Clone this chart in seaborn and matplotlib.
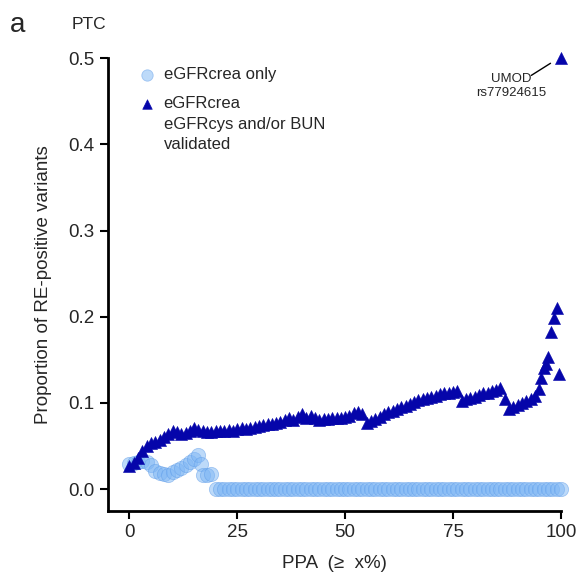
import pandas as pd
import seaborn as sns
import matplotlib.pyplot as plt

# --- Data ---
# eGFRcrea + eGFRcys and/or BUN validated (triangles)
ppa_validated = list(range(0, 95)) + [95, 95.5, 96, 96.5, 97, 97.8, 98.4, 99, 99.5, 100]
prop_validated = [
    0.027, 0.030, 0.036, 0.044, 0.050, 0.053, 0.055, 0.057, 0.060, 0.064,
    0.068, 0.066, 0.064, 0.065, 0.068, 0.071, 0.069, 0.067, 0.066, 0.066,
    0.067, 0.068, 0.067, 0.069, 0.068, 0.070, 0.071, 0.070, 0.071, 0.072,
    0.073, 0.074, 0.076, 0.075, 0.077, 0.078, 0.080, 0.083, 0.080, 0.084,
    0.087, 0.083, 0.085, 0.082, 0.080, 0.081, 0.081, 0.082, 0.082, 0.083,
    0.084, 0.085, 0.088, 0.089, 0.087, 0.077, 0.079, 0.081, 0.084, 0.087,
    0.089, 0.091, 0.093, 0.095, 0.097, 0.099, 0.101, 0.103, 0.105, 0.106,
    0.107, 0.108, 0.110, 0.111, 0.112, 0.113, 0.114, 0.102, 0.104, 0.106,
    0.107, 0.109, 0.111, 0.112, 0.114, 0.115, 0.117, 0.104, 0.093, 0.095,
    0.098, 0.100, 0.102, 0.104, 0.108,
    0.116, 0.129, 0.140, 0.145, 0.153, 0.182, 0.199, 0.210, 0.133, 0.500,
]

# eGFRcrea only (circles)
ppa_crea_only = list(range(0, 17)) + [16.5, 17, 18, 19] + list(range(20, 101))
prop_crea_only = [
    0.029, 0.030, 0.032, 0.033, 0.031, 0.028, 0.021, 0.019, 0.018, 0.017,
    0.020, 0.022, 0.025, 0.028, 0.031, 0.035, 0.040, 0.029, 0.016, 0.017,
    0.018,
] + [0.0] * 81

label_crea = "eGFRcrea only"
label_valid = "eGFRcrea"
label_valid_rest = "eGFRcys and/or BUN\nvalidated"

df_valid = pd.DataFrame({"ppa": ppa_validated, "prop": prop_validated})
df_crea = pd.DataFrame({"ppa": ppa_crea_only, "prop": prop_crea_only})

sns.set_style("ticks")
plt.rcParams['font.family'] = ['Liberation Sans', 'DejaVu Sans']

fig = plt.figure(figsize=(5.8, 5.84), dpi=100)
ax = fig.add_axes([0.186, 0.1255, 0.781, 0.775])

sns.scatterplot(data=df_crea, x="ppa", y="prop", ax=ax, marker="o", s=105,
                color="#7DB6F5", edgecolor="#5E9CE8", linewidth=0.6, alpha=0.5,
                label=label_crea, clip_on=False, zorder=2)
sns.scatterplot(data=df_valid, x="ppa", y="prop", ax=ax, marker="^", s=75,
                color="#0505AA", edgecolor="#0505AA", linewidth=0.4,
                label=label_valid, clip_on=False, zorder=3)

ax.set_xlim(-5, 100)
ax.set_ylim(-0.025, 0.5)
ax.set_xticks([0, 25, 50, 75, 100])
ax.set_yticks([0.0, 0.1, 0.2, 0.3, 0.4, 0.5])
ax.set_yticklabels(["0.0", "0.1", "0.2", "0.3", "0.4", "0.5"])
ax.set_xlabel("PPA  (\u2265  x%)", fontsize=13.5, labelpad=10)
ax.set_ylabel("Proportion of RE-positive variants", fontsize=13.5, labelpad=12)
ax.tick_params(axis="both", labelsize=13.5, width=1.5, length=6, color="black")
for side in ["left", "bottom"]:
    ax.spines[side].set_linewidth(2)
    ax.spines[side].set_color("black")
sns.despine(ax=ax)

# legend: handle sits next to the first line of the second label
leg = ax.legend(loc="upper left", bbox_to_anchor=(0.035, 0.995), frameon=False,
                fontsize=12, handletextpad=0.0, labelspacing=0.85, borderaxespad=0,
                markerscale=0.8)
fig.canvas.draw()
bb = leg.get_texts()[1].get_window_extent()
fig.text(bb.x0 / fig.bbox.width, (bb.y0 - 6) / fig.bbox.height, label_valid_rest,
         fontsize=12, ha="left", va="top", linespacing=1.4)

ax.annotate("UMOD\nrs77924615", xy=(97.6, 0.494), xytext=(88.6, 0.468),
            ha="center", va="center", fontsize=9.5,
            arrowprops=dict(arrowstyle="-", color="black", lw=1, patchA=None,
                            relpos=(0.78, 0.9), shrinkA=0, shrinkB=0))

fig.text(0.017, 0.958, "a", fontsize=20, va="center")
fig.text(0.124, 0.958, "PTC", fontsize=12.5, va="center")

plt.savefig("out.png", dpi=100)
